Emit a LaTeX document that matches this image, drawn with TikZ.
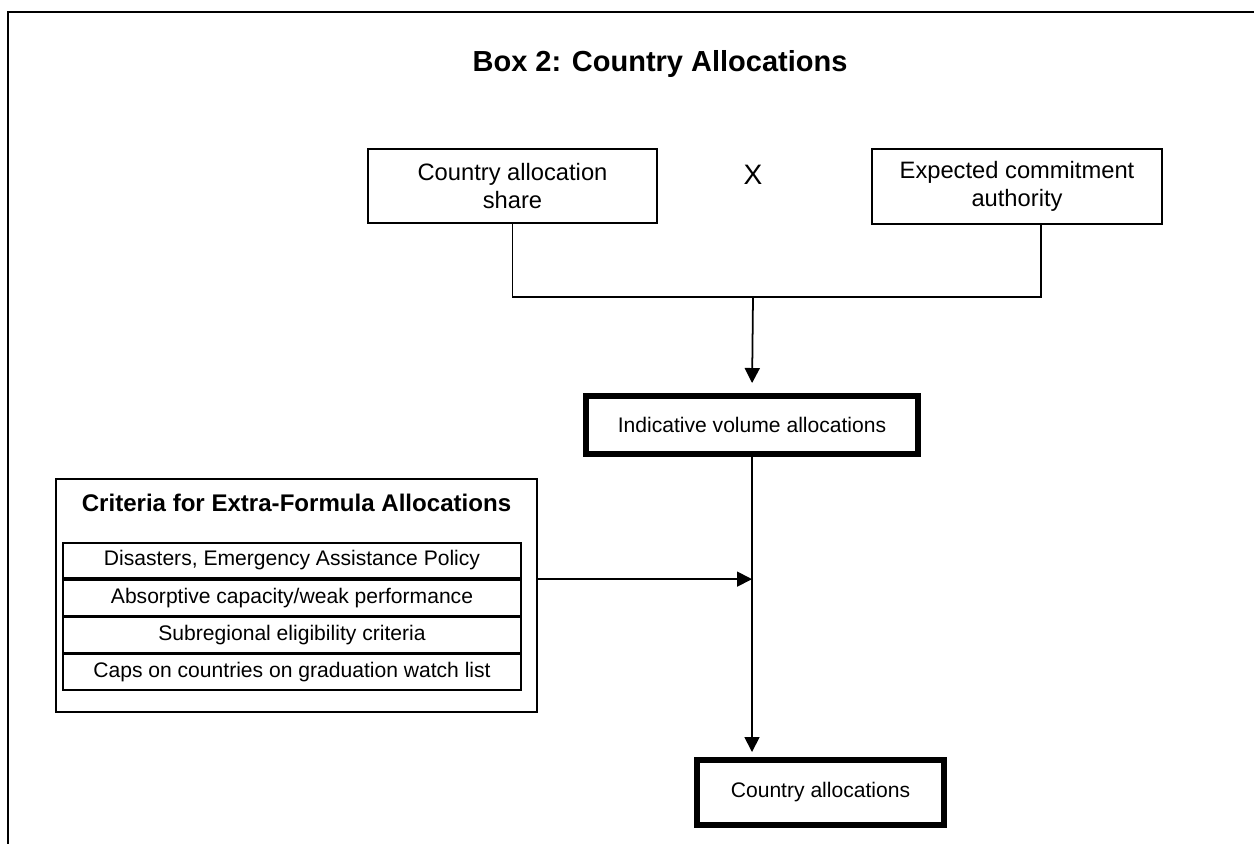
\documentclass[tikz,border=0pt]{standalone}
\usepackage{fontspec}
\setmainfont{Liberation Sans}
\usetikzlibrary{arrows.meta,positioning,calc}

\begin{document}
\begin{tikzpicture}[x=0.02cm,y=-0.02cm]
\tikzset{box/.style={draw,line width=1pt,align=center,inner sep=0pt,font=\fontsize{13.5}{16}\selectfont}}
\tikzset{thickbox/.style={draw,line width=3.4pt,align=center,inner sep=0pt,font=\fontsize{12}{14}\selectfont}}
\tikzset{row/.style={draw,line width=1pt,inner sep=0pt,minimum width=9.16cm,minimum height=0.71cm,font=\fontsize{12}{14}\selectfont}}
\tikzset{arr/.style={line width=1pt,-{Triangle[length=0.3cm,width=0.3cm]}}}
\useasboundingbox (0,0) rectangle (1254,844);
% frame, only top and left edges are inside the page
\draw[line width=1.2pt] (8,844) -- (8,12) -- (1254,12);
\node[font=\fontsize{16.5}{19}\selectfont\bfseries] (title) at (660,64) {Box 2: Country Allocations};

\node[box,minimum width=5.78cm,minimum height=1.48cm] (share) at (512.5,186) {Country allocation\\share};
\node[box,minimum width=5.8cm,minimum height=1.5cm] (authority) at (1017,186.5) {Expected commitment\\authority};
\node[font=\fontsize{16}{19}\selectfont] (times) at (753,175) {X};

\node[thickbox,minimum width=6.64cm,minimum height=1.16cm] (indicative) at (752,425) {Indicative volume allocations};
\node[thickbox,minimum width=4.94cm,minimum height=1.3cm] (final) at (820.5,792.5) {Country allocations};

% criteria box with its rows
\node[draw,line width=1pt,minimum width=9.62cm,minimum height=4.66cm] (criteria) at (296.5,595.5) {};
\node[font=\fontsize{13.7}{16}\selectfont\bfseries] (critlabel) at (296.5,503) {Criteria for Extra-Formula Allocations};
\node[row] (rowone) at (292,560.5) {Disasters, Emergency Assistance Policy};
\node[row,below=0pt of rowone] (rowtwo) {Absorptive capacity/weak performance};
\node[row,below=0pt of rowtwo] (rowthree) {Subregional eligibility criteria};
\node[row,below=0pt of rowthree] (rowfour) {Caps on countries on graduation watch list};

\coordinate (merge) at (753,297);
\draw[line width=1pt] (share.south) |- (merge) -| ([xshift=0.48cm]authority.south);
\draw[arr,shorten >=0.2cm] (merge) -- (indicative.north);
\draw[arr,shorten >=0.1cm] (indicative.south) -- (indicative.south |- final.north);
\draw[arr] (criteria.east |- rowtwo.north) -- (rowtwo.north -| indicative.south);
\end{tikzpicture}
\end{document}
